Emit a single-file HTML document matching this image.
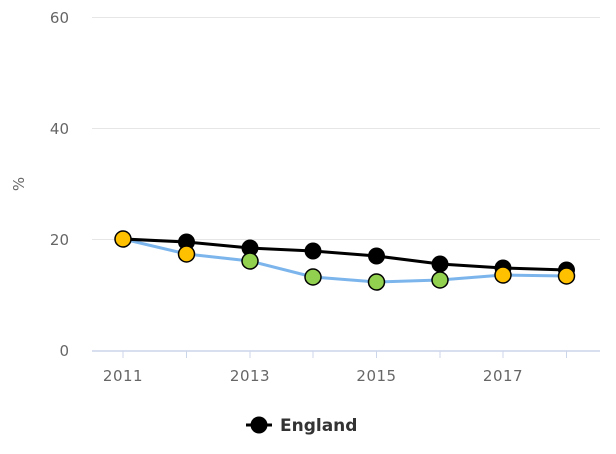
<!DOCTYPE html><html><head><style>body{margin:0;background:#fff}svg{display:block}text{font-family:"DejaVu Sans","Liberation Sans",sans-serif}</style></head><body>
<svg width="616" height="454" viewBox="0 0 616 454">
<g stroke="#e6e6e6" stroke-width="1">
<line x1="92" y1="17.5" x2="600" y2="17.5"/><line x1="92" y1="128.5" x2="600" y2="128.5"/><line x1="92" y1="239.5" x2="600" y2="239.5"/></g>
<line x1="92" y1="351" x2="600" y2="351" stroke="#ccd6eb" stroke-width="1.5"/>
<g stroke="#ccd6eb"><line x1="123" y1="351" x2="123" y2="358"/><line x1="186.5" y1="351" x2="186.5" y2="358"/><line x1="250" y1="351" x2="250" y2="358"/><line x1="313" y1="351" x2="313" y2="358"/><line x1="376.5" y1="351" x2="376.5" y2="358"/><line x1="440" y1="351" x2="440" y2="358"/><line x1="503" y1="351" x2="503" y2="358"/><line x1="566.5" y1="351" x2="566.5" y2="358"/></g>
<g fill="#666" font-size="15" text-anchor="end"><text x="69" y="23">60</text><text x="69" y="134">40</text><text x="69" y="245">20</text><text x="69" y="356">0</text></g>
<g fill="#666" font-size="15" text-anchor="middle" letter-spacing="0.5"><text x="123" y="381">2011</text><text x="250" y="381">2013</text><text x="376.5" y="381">2015</text><text x="503" y="381">2017</text></g>
<text x="24" y="184" fill="#666" font-size="15" text-anchor="middle" transform="rotate(-90 24 184)">%</text>
<polyline fill="none" stroke="#7cb5ec" stroke-width="3" points="123,239 186.5,254 250,261 313,277 376.5,282 440,280 503,275 566.5,276"/>
<polyline fill="none" stroke="#000" stroke-width="3" points="123,239 186.5,242 250,248 313,251 376.5,256 440,264 503,268 566.5,270"/>
<g fill="#000"><circle cx="186.5" cy="242" r="8.5"/><circle cx="250" cy="248" r="8.5"/><circle cx="313" cy="251" r="8.5"/><circle cx="376.5" cy="256" r="8.5"/><circle cx="440" cy="264" r="8.5"/><circle cx="503" cy="268" r="8.5"/><circle cx="566.5" cy="270" r="8.5"/></g>
<g stroke="#000" stroke-width="1.5">
<circle cx="123" cy="239" r="8" fill="#ffc000"/><circle cx="186.5" cy="254" r="8" fill="#ffc000"/><circle cx="250" cy="261" r="8" fill="#92d050"/><circle cx="313" cy="277" r="8" fill="#92d050"/><circle cx="376.5" cy="282" r="8" fill="#92d050"/><circle cx="440" cy="280" r="8" fill="#92d050"/><circle cx="503" cy="275" r="8" fill="#ffc000"/><circle cx="566.5" cy="276" r="8" fill="#ffc000"/></g>
<line x1="246" y1="425" x2="272" y2="425" stroke="#000" stroke-width="3"/><circle cx="259" cy="425" r="8.5" fill="#000"/>
<text x="280" y="431" font-size="17" font-weight="bold" fill="#333">England</text>
</svg></body></html>
